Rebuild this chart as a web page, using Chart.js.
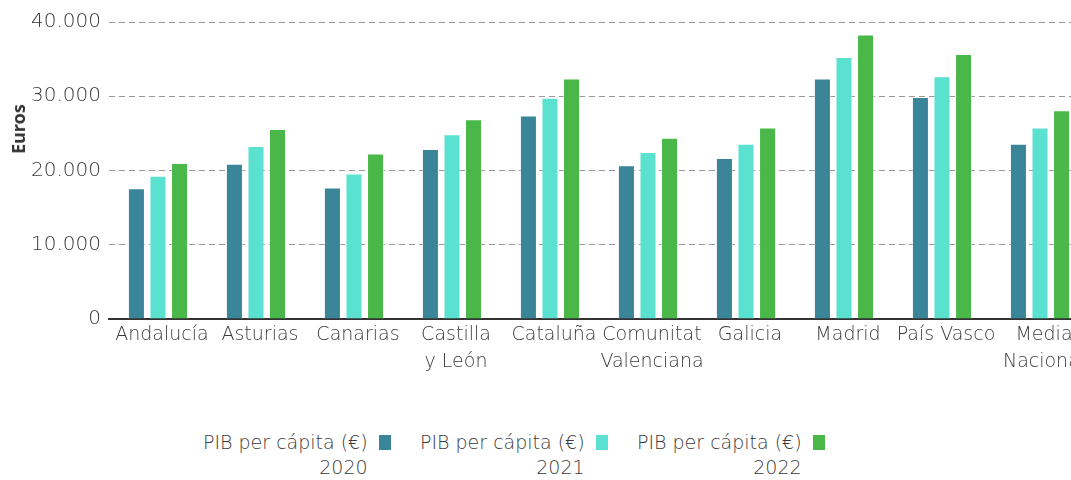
<!DOCTYPE html>
<html>
<head>
<meta charset="utf-8">
<script src="https://cdn.jsdelivr.net/npm/chart.js@4"></script>
<style>
  html, body { margin: 0; padding: 0; background: #fff; overflow: hidden; }
  #wrap { position: relative; width: 1092px; height: 480px; }
  #grafico { position: absolute; left: 0; top: 2px; }
  #tituloY { position: absolute; left: 18px; top: 129px; transform: translate(-50%, -50%) rotate(-90deg);
             font: 700 18px "Noto Sans", sans-serif; color: #333; white-space: nowrap; }
  .leyenda-item { position: absolute; top: 430px; display: flex; align-items: flex-start; }
  .leyenda-texto { text-align: right; font: 200 19px "DejaVu Sans ExtraLight", "DejaVu Sans", sans-serif; color: #3a3a3a; line-height: 25px; }
  .leyenda-caja { width: 12px; height: 15px; margin-left: 11px; margin-top: 5px; }
</style>
</head>
<body>
<div id="wrap">
  <canvas id="grafico" width="1092" height="390"></canvas>
  <div id="tituloY">Euros</div>
  <div id="leyenda"></div>
</div>
<script>
const regiones = ["Andalucía", "Asturias", "Canarias", ["Castilla", "y León"], "Cataluña",
                  ["Comunitat", "Valenciana"], "Galicia", "Madrid", "País Vasco", ["Media", "Nacional"]];
const pib2020 = [17600, 20900, 17700, 22900, 27400, 20700, 21700, 32400, 29900, 23600];
const pib2021 = [19300, 23300, 19600, 24900, 29800, 22500, 23600, 35300, 32700, 25800];
const pib2022 = [21000, 25600, 22300, 26900, 32400, 24400, 25800, 38300, 35700, 28100];
const anios = ["2020", "2021", "2022"];
const nombreSerie = "PIB per cápita (€)";
const colores = ["#3a8597", "#5ae1cf", "#4ab749"];
const yMax = 40000;
const yPaso = 10000;

const fuente = "'DejaVu Sans ExtraLight', 'DejaVu Sans', sans-serif";

function formatMiles(v) {
    return String(v).replace(/\B(?=(\d{3})+(?!\d))/g, ".");
}

const series = [pib2020, pib2021, pib2022];
const datasets = series.map((valores, i) => ({
    label: nombreSerie + " " + anios[i],
    data: valores,
    backgroundColor: colores[i],
    borderColor: "rgba(255,255,255,0.45)",
    borderWidth: 1,
    categoryPercentage: 0.66,
    barPercentage: 0.79
}));

const ctx = document.getElementById("grafico").getContext("2d");
const chart = new Chart(ctx, {
    type: "bar",
    data: { labels: regiones, datasets: datasets },
    options: {
        responsive: false,
        animation: false,
        layout: { padding: { left: 23, right: 3, top: 18, bottom: 21 } },
        plugins: { legend: { display: false }, tooltip: { enabled: false } },
        scales: {
            x: {
                grid: { display: false },
                border: { display: true, color: "#333", width: 2 },
                ticks: {
                    color: "#3a3a3a",
                    font: { family: fuente, size: 19, weight: 200, lineHeight: 1.42 },
                    maxRotation: 0,
                    autoSkip: false,
                    labelOffset: 4,
                    padding: -5
                }
            },
            y: {
                min: 0,
                max: yMax,
                grid: { color: "#999", lineWidth: 1, drawTicks: false },
                border: { display: false, dash: [6, 4] },
                ticks: {
                    stepSize: yPaso,
                    color: "#3a3a3a",
                    padding: 8,
                    font: { family: fuente, size: 20, weight: 200 },
                    callback: v => formatMiles(v)
                }
            }
        }
    }
});

// leyenda con el texto delante de la caja
const leyenda = document.getElementById("leyenda");
datasets.forEach((ds, i) => {
    let item = document.createElement("div");
    item.className = "leyenda-item";
    item.style.left = (203 + i * 217) + "px";
    let texto = document.createElement("div");
    texto.className = "leyenda-texto";
    texto.innerHTML = nombreSerie + "<br>" + anios[i];
    let caja = document.createElement("div");
    caja.className = "leyenda-caja";
    caja.style.background = ds.backgroundColor;
    item.appendChild(texto);
    item.appendChild(caja);
    leyenda.appendChild(item);
});
</script>
</body>
</html>
